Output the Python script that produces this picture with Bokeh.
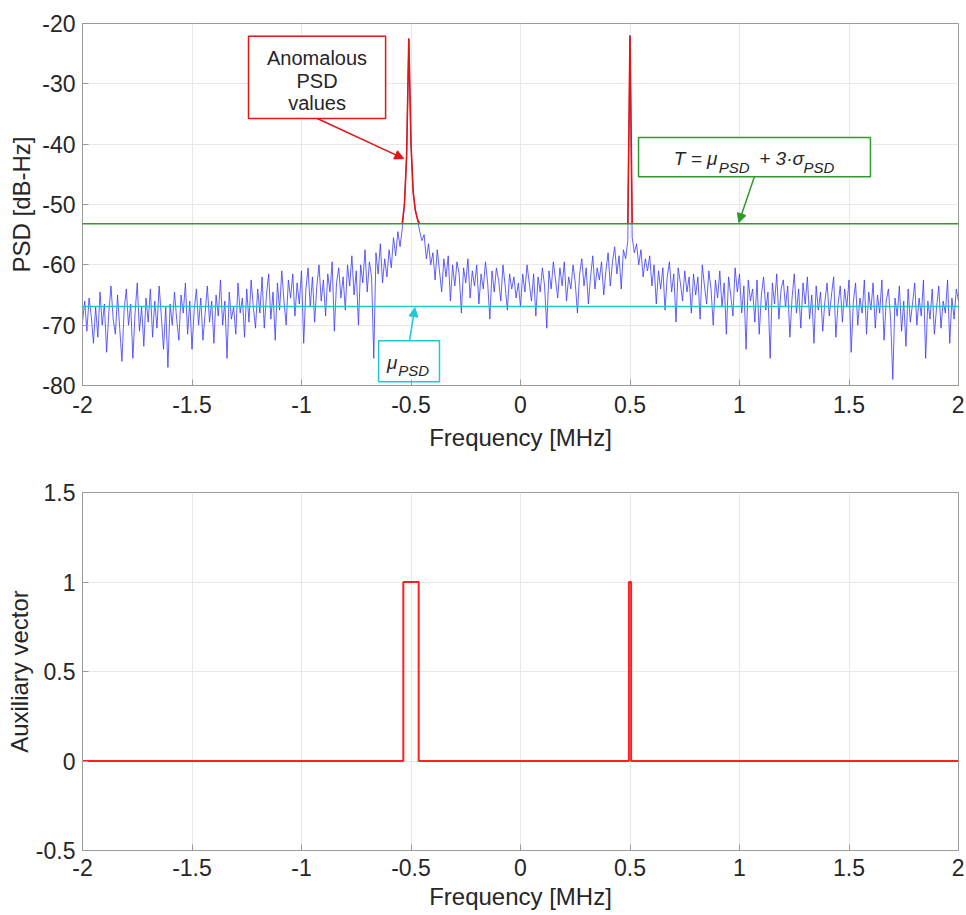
import numpy as np
from bokeh.plotting import figure
from bokeh.layouts import column
from bokeh.models import Range1d, FixedTicker, Span, Arrow, NormalHead
from bokeh.core.properties import value
from bokeh.embed import file_html
from bokeh.resources import INLINE

# ---------------- data ----------------
f_min, f_max, f_step = -2.0, 2.0, 0.01
freq = np.round(np.arange(f_min, f_max + f_step / 2, f_step), 2)

psd_db = [
    -69.5, -66.0, -71.0, -65.5, -68.5, -73.0, -67.0, -72.0, -64.5, -70.0, -66.5, -74.5, -68.0, -63.5, -69.0, -71.5, -65.0, -70.5, -76.0, -67.5,
    -64.0, -70.0, -66.5, -75.5, -68.0, -63.0, -71.0, -67.0, -73.5, -65.5, -69.5, -64.0, -72.0, -66.0, -70.5, -63.5, -68.5, -74.0, -67.0, -77.0,
    -66.5, -70.0, -64.5, -69.0, -72.5, -65.0, -68.0, -63.0, -71.5, -66.0, -74.0, -67.5, -64.0, -70.0, -65.5, -72.5, -68.0, -63.5, -69.5, -66.0,
    -73.0, -65.0, -68.5, -62.5, -70.0, -66.0, -75.5, -64.5, -69.0, -67.0, -71.5, -63.0, -68.0, -65.5, -72.0, -64.0, -69.5, -62.5, -67.0, -70.5,
    -64.0, -68.0, -62.0, -70.5, -65.0, -61.5, -69.0, -64.5, -72.5, -63.0, -67.5, -61.0, -66.0, -70.0, -62.5, -65.5, -61.5, -68.5, -63.0, -66.5,
    -61.0, -73.0, -64.0, -60.5, -67.0, -62.0, -69.5, -63.5, -60.0, -66.0, -62.5, -68.5, -61.5, -64.5, -59.5, -71.0, -63.0, -60.5, -65.5, -62.0,
    -67.5, -60.0, -63.5, -58.5, -65.0, -61.0, -70.0, -60.0, -63.0, -57.5, -64.5, -59.5, -62.0, -75.5, -58.0, -61.5, -56.5, -63.0, -59.0, -62.0,
    -57.5, -60.5, -55.5, -58.5, -54.5, -57.0, -54.0, -50.0, -42.0, -22.5, -40.0, -48.0, -51.0, -52.5, -54.5, -56.0, -55.0, -59.0, -56.5, -60.0,
    -58.0, -62.5, -57.5, -61.0, -64.5, -59.0, -62.0, -58.5, -66.0, -60.0, -63.5, -59.5, -61.5, -68.0, -60.5, -63.0, -59.0, -65.5, -61.0, -63.5,
    -60.0, -66.5, -61.5, -64.0, -59.5, -63.0, -69.0, -61.0, -64.5, -60.5, -62.5, -66.0, -60.0, -63.5, -67.5, -61.5, -64.0, -62.0, -65.5, -63.0,
    -67.0, -61.5, -64.5, -60.0, -63.0, -66.0, -61.5, -68.5, -62.0, -64.5, -60.5, -63.5, -70.5, -61.0, -64.0, -59.5, -62.5, -65.5, -60.5, -63.5,
    -59.5, -66.0, -62.0, -64.0, -60.0, -63.0, -68.0, -61.5, -59.0, -63.5, -60.5, -66.5, -62.0, -58.5, -64.0, -60.5, -62.5, -59.5, -65.0, -61.0,
    -58.0, -63.5, -59.5, -57.0, -61.5, -58.5, -64.0, -57.5, -59.0, -56.0, -22.0, -55.5, -58.0, -56.5, -60.0, -57.5, -62.0, -59.0, -61.0, -58.5,
    -63.5, -60.0, -66.5, -61.0, -64.0, -60.5, -67.5, -62.0, -59.5, -64.5, -61.5, -69.5, -60.5, -63.0, -66.0, -61.0, -64.5, -62.0, -68.0, -61.5,
    -65.0, -62.0, -69.0, -60.0, -63.5, -66.5, -61.0, -64.0, -70.0, -62.5, -65.5, -61.0, -67.0, -63.0, -71.5, -62.0, -65.0, -68.5, -60.5, -64.5,
    -61.5, -68.0, -63.5, -74.0, -62.5, -66.0, -64.0, -69.5, -62.5, -71.5, -65.0, -62.0, -67.5, -64.5, -75.5, -63.0, -66.5, -61.5, -69.0, -64.0,
    -62.5, -67.0, -63.5, -72.0, -65.5, -61.5, -68.0, -64.0, -70.5, -63.0, -66.5, -62.0, -69.0, -65.0, -73.0, -63.5, -67.5, -64.5, -71.0, -66.0,
    -63.0, -68.5, -65.0, -62.0, -72.0, -66.5, -63.5, -69.5, -64.0, -67.0, -62.5, -74.5, -66.0, -63.0, -70.0, -65.5, -68.0, -62.5, -71.5, -64.5,
    -67.5, -63.0, -70.5, -65.0, -68.0, -62.5, -72.5, -66.0, -64.0, -69.0, -79.0, -65.5, -68.5, -63.5, -71.0, -66.0, -73.5, -64.0, -69.5, -66.5,
    -63.0, -70.0, -65.5, -68.5, -62.5, -75.5, -66.0, -69.0, -64.0, -71.5, -67.0, -63.5, -70.5, -66.0, -68.0, -62.5, -73.0, -65.5, -69.0, -64.0,
    -66.0,
]

mu_psd = -66.9          # mean PSD level [dB-Hz]
threshold = -53.2       # T = mu + 3 sigma [dB-Hz]

x_ticks = [-2, -1.5, -1, -0.5, 0, 0.5, 1, 1.5, 2]
x_tick_labels = ["-2", "-1.5", "-1", "-0.5", "0", "0.5", "1", "1.5", "2"]
psd_ticks = [-80, -70, -60, -50, -40, -30, -20]
psd_tick_labels = ["-80", "-70", "-60", "-50", "-40", "-30", "-20"]
aux_ticks = [-0.5, 0, 0.5, 1, 1.5]
aux_tick_labels = ["-0.5", "0", "0.5", "1", "1.5"]

# ---------------- derived ----------------
psd = np.array(psd_db)
above = psd > threshold
aux = above.astype(float)
ext = above.copy()
ext[1:] |= above[:-1]
ext[:-1] |= above[1:]
red_y = np.where(ext, np.maximum(psd, threshold), np.nan)

FONT = "Liberation Sans"
TXT = "#262626"
AX = "#9a9a9a"
BLUE = "#3a3aff"
RED = "#e01515"
GREEN = "#2f9a2f"
CYAN = "#1ec8d4"


def style(p, yt, yl, ylabel, ylab_standoff):
    p.xaxis.ticker = FixedTicker(ticks=x_ticks)
    p.xaxis.major_label_overrides = dict(zip(x_ticks, x_tick_labels))
    p.yaxis.ticker = FixedTicker(ticks=yt)
    p.yaxis.major_label_overrides = dict(zip(yt, yl))
    p.xaxis.axis_label = "Frequency [MHz]"
    p.yaxis.axis_label = ylabel
    for ax in p.axis:
        ax.axis_line_color = AX
        ax.major_tick_line_color = AX
        ax.major_tick_in = 6
        ax.major_tick_out = 0
        ax.minor_tick_line_color = None
        ax.major_label_text_font = FONT
        ax.major_label_text_font_size = "23px"
        ax.major_label_text_color = TXT
        ax.axis_label_text_font = FONT
        ax.axis_label_text_font_size = "24px"
        ax.axis_label_text_font_style = "normal"
        ax.axis_label_text_color = TXT
    p.xaxis.major_label_standoff = 10
    p.xaxis.axis_label_standoff = 8
    p.yaxis.major_label_standoff = 7
    p.yaxis.axis_label_standoff = ylab_standoff
    p.grid.grid_line_color = "#e8e8e8"
    p.outline_line_color = AX
    p.background_fill_color = "white"


# ---------------- top: PSD ----------------
p1 = figure(width=964, height=460, output_backend="svg", toolbar_location=None,
            x_range=Range1d(-2, 2), y_range=Range1d(-80, -20),
            min_border_left=82, min_border_right=6, min_border_top=23, min_border_bottom=75)
style(p1, psd_ticks, psd_tick_labels, "PSD [dB-Hz]", 4)

p1.line(freq, psd, line_color=BLUE, line_width=1, line_alpha=0.8)
p1.add_layout(Span(location=threshold, dimension="width", line_color=GREEN, line_width=1.5))
p1.add_layout(Span(location=mu_psd, dimension="width", line_color=CYAN, line_width=1.5))
p1.line(freq, red_y, line_color=RED, line_width=1.6)

# annotation boxes
p1.quad(left=[-1.242], right=[-0.616], top=[-22.1], bottom=[-35.75],
        fill_color="white", line_color=RED, line_width=1.5)
p1.quad(left=[0.539], right=[1.598], top=[-38.9], bottom=[-45.4],
        fill_color="white", line_color=GREEN, line_width=1.5)
p1.quad(left=[-0.648], right=[-0.370], top=[-72.57], bottom=[-79.37],
        fill_color="white", line_color=CYAN, line_width=1.5)

p1.text(x=[-0.929, -0.929, -0.929], y=[-25.7, -29.5, -33.2],
        text=["Anomalous", "PSD", "values"], text_align="center", text_baseline="alphabetic",
        text_font=value(FONT), text_font_size=value("20px"), text_color=TXT)

# T = mu_PSD + 3 sigma_PSD
p1.text(x=[0.700, 0.852, 1.090], y=[-42.4, -42.4, -42.4], text=["T = ", "μ", "+ 3·σ"],
        text_align="left", text_baseline="alphabetic", text_font=value(FONT),
        text_font_size=value("19px"), text_font_style="italic", text_color=TXT)
p1.text(x=[0.905, 1.292], y=[-43.8, -43.8], text=["PSD", "PSD"],
        text_align="left", text_baseline="alphabetic", text_font=value(FONT),
        text_font_size=value("15px"), text_font_style="italic", text_color=TXT)

# mu_PSD
p1.text(x=[-0.610], y=[-76.2], text=["μ"], text_align="left", text_baseline="alphabetic",
        text_font=value(FONT), text_font_size=value("19px"), text_font_style="italic", text_color=TXT)
p1.text(x=[-0.558], y=[-77.5], text=["PSD"], text_align="left", text_baseline="alphabetic",
        text_font=value(FONT), text_font_size=value("15px"), text_font_style="italic", text_color=TXT)

p1.add_layout(Arrow(end=NormalHead(size=9, fill_color=RED, line_color=RED),
                    x_start=-0.928, y_start=-35.75, x_end=-0.533, y_end=-42.4,
                    line_color=RED, line_width=1.5))
p1.add_layout(Arrow(end=NormalHead(size=9, fill_color=GREEN, line_color=GREEN),
                    x_start=1.068, y_start=-45.4, x_end=0.997, y_end=-53.0,
                    line_color=GREEN, line_width=1.5))
p1.add_layout(Arrow(end=NormalHead(size=9, fill_color=CYAN, line_color=CYAN),
                    x_start=-0.507, y_start=-72.57, x_end=-0.482, y_end=-67.1,
                    line_color=CYAN, line_width=1.5))

# ---------------- bottom: auxiliary vector ----------------
p2 = figure(width=964, height=454, output_backend="svg", toolbar_location=None,
            x_range=Range1d(-2, 2), y_range=Range1d(-0.5, 1.5),
            min_border_left=82, min_border_right=6, min_border_top=32, min_border_bottom=64)
style(p2, aux_ticks, aux_tick_labels, "Auxiliary vector", 0)
p2.xaxis.major_label_standoff = 8
p2.xaxis.axis_label_standoff = 4
p2.step(freq, aux, mode="center", line_color="#ff2020", line_width=2)

layout = column(p1, p2)
open("out.html", "w").write(file_html(layout, INLINE))
